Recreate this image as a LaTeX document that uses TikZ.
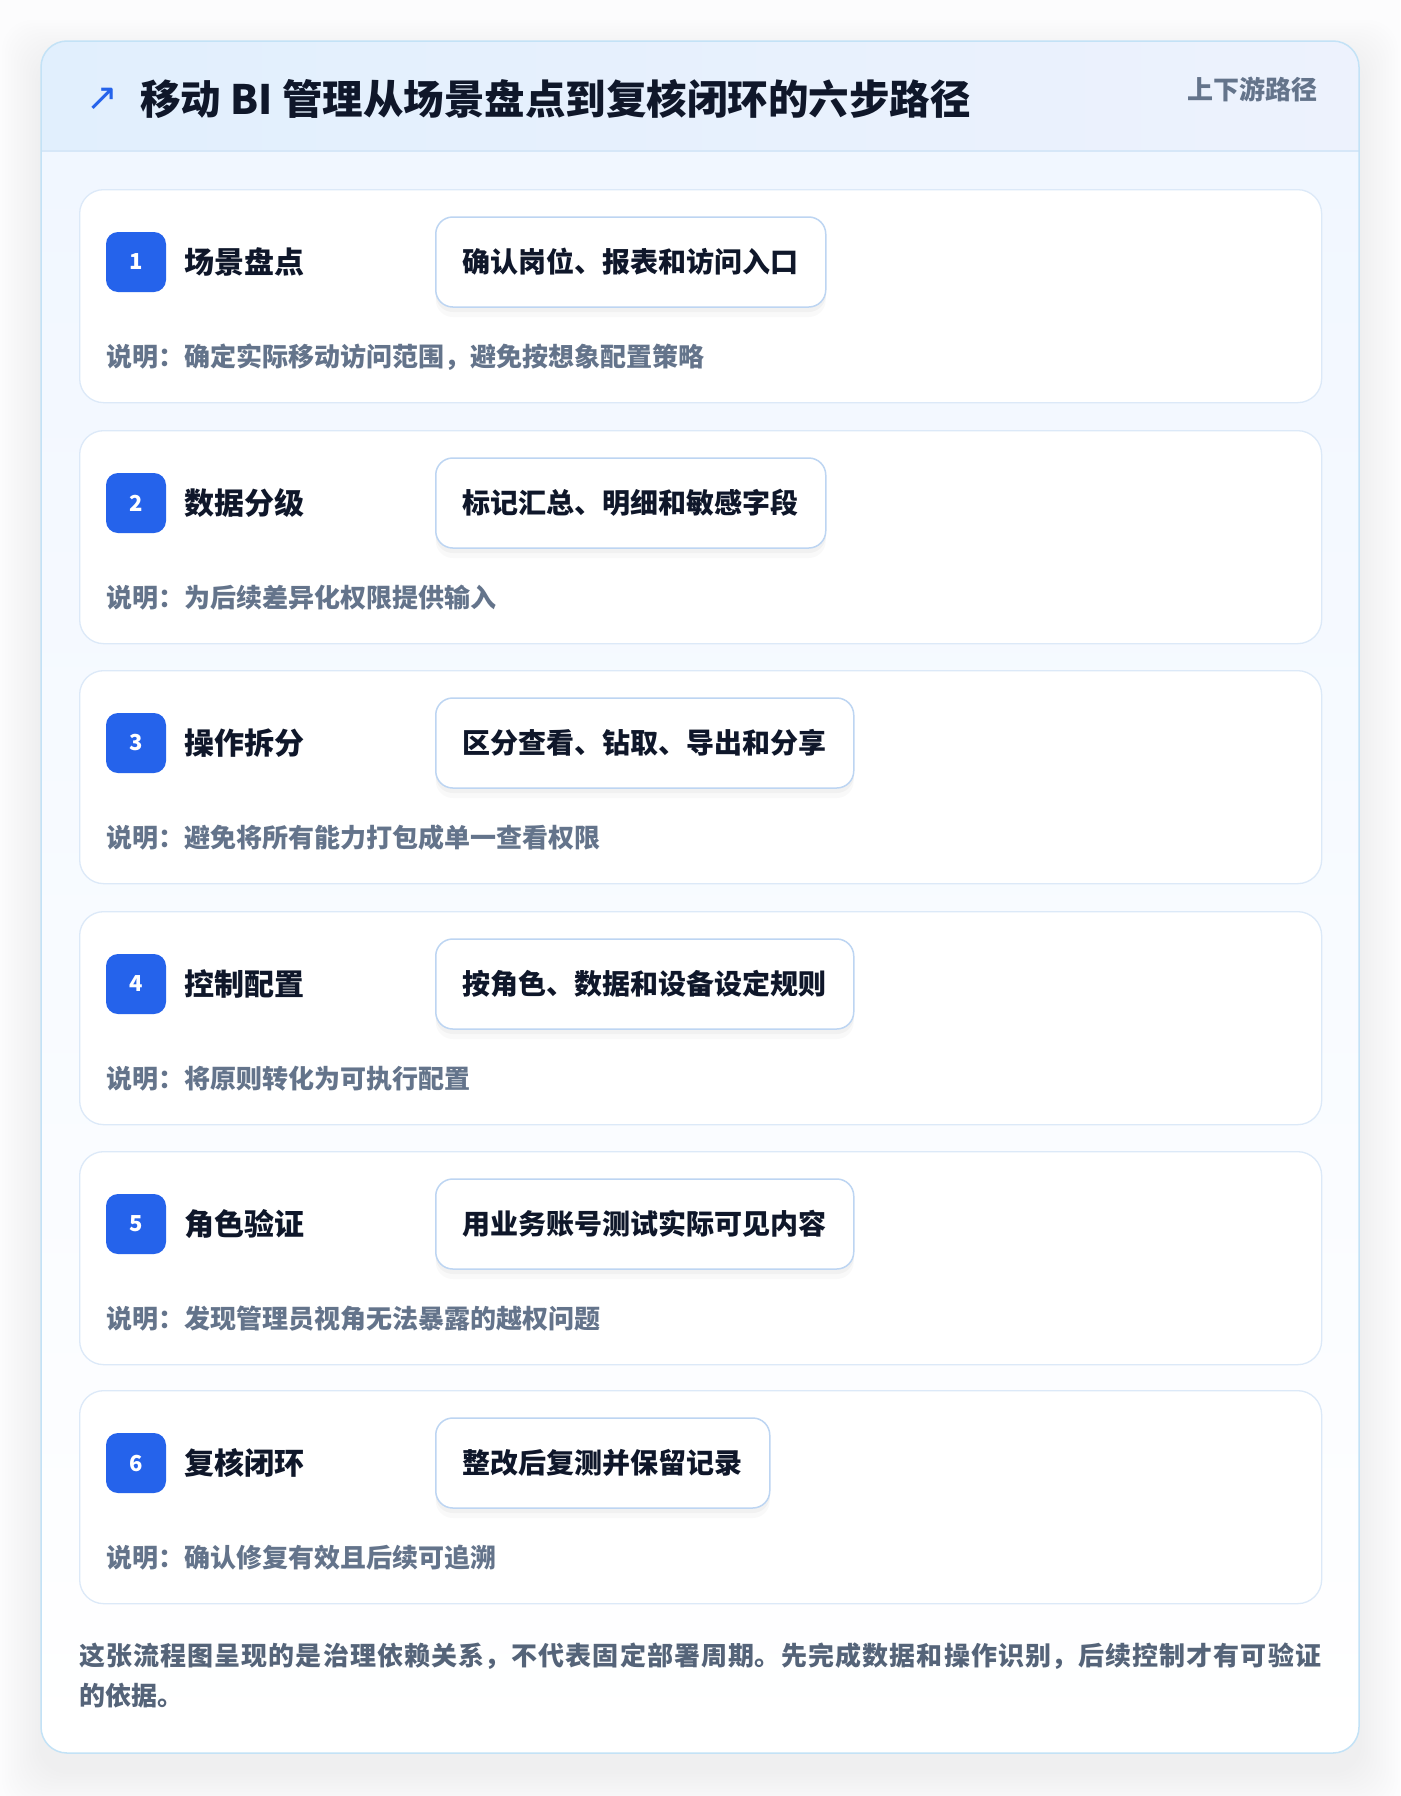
\documentclass[tikz,border=0pt]{standalone}
\usepackage{fontspec}
\setmainfont{Noto Sans CJK SC}
\newfontfamily\symfont{DejaVu Sans}
\usetikzlibrary{positioning,shadows}
\XeTeXlinebreaklocale "zh"
\XeTeXlinebreakskip=0pt plus 2pt

\definecolor{pagebg}{HTML}{FCFCFD}
\definecolor{ink}{HTML}{0F172A}
\definecolor{note}{HTML}{64748B}
\definecolor{foot}{HTML}{556479}
\definecolor{accent}{HTML}{2563EB}
\definecolor{frameline}{HTML}{C3E2F6}
\definecolor{headA}{HTML}{E1EFFD}
\definecolor{headB}{HTML}{EDF2FD}
\definecolor{headline}{HTML}{D6E7F8}
\definecolor{bodyA}{HTML}{F1F7FF}
\definecolor{cardline}{HTML}{DCE9F8}
\definecolor{boxline}{HTML}{BDD5F2}

\tikzset{
  stepcard/.style={draw=cardline, line width=1.3pt, fill=white, rounded corners=24pt,
    minimum width=1242pt, minimum height=213pt, anchor=north west, inner sep=0pt},
  badge/.style={fill=accent, rounded corners=12pt, minimum size=60pt, inner sep=0pt,
    text=white, font=\fontsize{22}{24}\selectfont\bfseries},
  steptitle/.style={anchor=west, text=ink, inner sep=0pt, font=\fontsize{30}{36}\selectfont\bfseries},
  stepbox/.style={anchor=west, draw=boxline, line width=1.5pt, fill=white, rounded corners=17pt,
    minimum height=90pt, inner xsep=27pt, text=ink, font=\fontsize{28}{32}\selectfont\bfseries,
    drop shadow={shadow xshift=0pt, shadow yshift=-10pt, opacity=0.025, fill=black},
    drop shadow={shadow xshift=0pt, shadow yshift=-5pt, opacity=0.03, fill=black}},
  stepnote/.style={anchor=west, text=note, inner sep=0pt, font=\fontsize{26}{30}\selectfont\bfseries},
}

\begin{document}
\begin{tikzpicture}[x=1pt,y=-1pt]
  \useasboundingbox (0,0) rectangle (1400,1796);
  \fill[pagebg] (0,0) rectangle (1400,1796);

  % soft shadow of the frame
  \foreach \s in {3,6,...,39}
    \fill[black, opacity=0.0045, rounded corners=30pt] (41-\s,59-\s) rectangle (1359+\s,1771+\s);

  % outer frame with header band
  \begin{scope}
    \clip[rounded corners=26pt] (41,41) rectangle (1359,1753);
    \shade[top color=bodyA, bottom color=white] (41,151) rectangle (1359,1753);
    \shade[left color=headA, right color=headB] (41,41) rectangle (1359,151);
  \end{scope}
  \draw[headline, line width=1.5pt] (41,151) -- (1359,151);
  \draw[frameline, line width=1.5pt, rounded corners=26pt] (41,41) rectangle (1359,1753);

  \node[anchor=west, inner sep=0pt, text=ink, font=\fontsize{40.5}{46}\selectfont\bfseries] (title) at (140,99)
    {移动 BI 管理从场景盘点到复核闭环的六步路径};
  \node[inner sep=0pt, text=accent, font=\symfont\fontsize{38}{38}\selectfont] (icon) at (102,99) {↗};
  \node[anchor=east, inner sep=0pt, text=note, font=\fontsize{26}{30}\selectfont\bfseries] (tag) at (1318,89) {上下游路径};

  % step 1
  \node[stepcard] (card1) at (79,189) {};
  \node[badge] (num1) at (136,262) {1};
  \node[steptitle, right=18pt of num1] (name1) {场景盘点};
  \node[stepbox] (box1) at (435,262) {确认岗位、报表和访问入口};
  \node[stepnote] (note1) at (106,357) {说明：确定实际移动访问范围，避免按想象配置策略};

  % step 2
  \node[stepcard] (card2) at (79,430) {};
  \node[badge] (num2) at (136,503) {2};
  \node[steptitle, right=18pt of num2] (name2) {数据分级};
  \node[stepbox] (box2) at (435,503) {标记汇总、明细和敏感字段};
  \node[stepnote] (note2) at (106,598) {说明：为后续差异化权限提供输入};

  % step 3
  \node[stepcard] (card3) at (79,670) {};
  \node[badge] (num3) at (136,743) {3};
  \node[steptitle, right=18pt of num3] (name3) {操作拆分};
  \node[stepbox] (box3) at (435,743) {区分查看、钻取、导出和分享};
  \node[stepnote] (note3) at (106,838) {说明：避免将所有能力打包成单一查看权限};

  % step 4
  \node[stepcard] (card4) at (79,911) {};
  \node[badge] (num4) at (136,984) {4};
  \node[steptitle, right=18pt of num4] (name4) {控制配置};
  \node[stepbox] (box4) at (435,984) {按角色、数据和设备设定规则};
  \node[stepnote] (note4) at (106,1079) {说明：将原则转化为可执行配置};

  % step 5
  \node[stepcard] (card5) at (79,1151) {};
  \node[badge] (num5) at (136,1224) {5};
  \node[steptitle, right=18pt of num5] (name5) {角色验证};
  \node[stepbox] (box5) at (435,1224) {用业务账号测试实际可见内容};
  \node[stepnote] (note5) at (106,1319) {说明：发现管理员视角无法暴露的越权问题};

  % step 6
  \node[stepcard] (card6) at (79,1390) {};
  \node[badge] (num6) at (136,1463) {6};
  \node[steptitle, right=18pt of num6] (name6) {复核闭环};
  \node[stepbox] (box6) at (435,1463) {整改后复测并保留记录};
  \node[stepnote] (note6) at (106,1558) {说明：确认修复有效且后续可追溯};

  % footer remark
  \node[anchor=north west, inner sep=0pt, text width=1242pt, align=justify, text=foot,
    font=\fontsize{26}{40}\selectfont\bfseries] (remark) at (79,1643)
    {这张流程图呈现的是治理依赖关系，不代表固定部署周期。先完成数据和操作识别，后续控制才有可验证\linebreak 的依据。};
\end{tikzpicture}
\end{document}
